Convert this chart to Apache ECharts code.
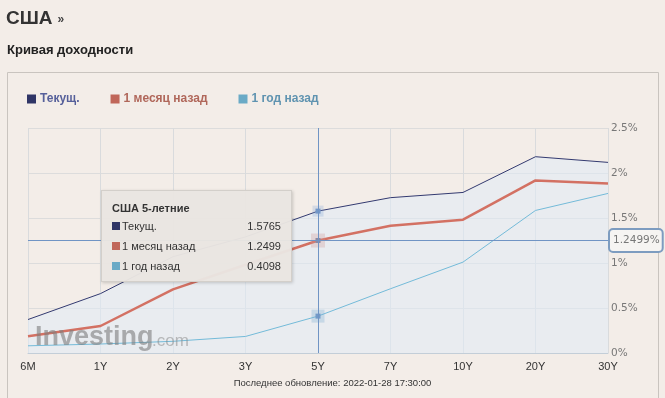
<!DOCTYPE html>
<html lang="ru">
<head>
    <meta charset="UTF-8">
    <title>Кривая доходности США</title>
    <script src="https://cdn.jsdelivr.net/npm/echarts@6/dist/echarts.min.js"></script>
    <style type="text/css">
        body{
            margin: 0px;
            padding: 0px;
            background: #f3ede8;
        }
        #chart{
            width: 665px;
            height: 398px;
        }
    </style>
</head>
<body>
<div id="chart"></div>
<script type="text/javascript">
    // сроки и подписи
    var categories = ['6M', '1Y', '2Y', '3Y', '5Y', '7Y', '10Y', '20Y', '30Y'];
    var termNames = ['6-месячные', '1-летние', '2-летние', '3-летние', '5-летние', '7-летние', '10-летние', '20-летние', '30-летние'];
    var seriesNames = ['Текущ.', '1 месяц назад', '1 год назад'];
    // доходность, %
    var current = [0.372, 0.66, 1.07, 1.29, 1.5765, 1.726, 1.784, 2.181, 2.118];
    var monthAgo = [0.185, 0.30, 0.707, 0.98, 1.2499, 1.414, 1.481, 1.918, 1.884];
    var yearAgo = [0.08, 0.10, 0.13, 0.184, 0.4098, 0.714, 1.01, 1.584, 1.773];
    var yTicks = [0, 0.5, 1, 1.5, 2, 2.5];
    var updated = 'Последнее обновление: 2022-01-28 17:30:00';

    var colors = ['#2f3566', '#c0675a', '#6aaac6'];
    var legendColors = ['#56609a', '#b0675a', '#5f93b0'];
    var hoverIndex = 4;

    var myChart = echarts.init(document.getElementById('chart'));

    var option = {
        animation: false,
        backgroundColor: '#f3ede8',
        title: [{
            text: '{a|США} {b|»}',
            left: 6,
            top: 9,
            padding: 0,
            textStyle: {
                rich: {
                    a: {fontSize: 19, fontWeight: 'bold', color: '#333', fontFamily: 'Arial, "Liberation Sans"'},
                    b: {fontSize: 12, color: '#444', fontFamily: 'Arial, "Liberation Sans"', padding: [3, 0, 0, 0]}
                }
            }
        }, {
            text: 'Кривая доходности',
            left: 7,
            top: 44,
            padding: 0,
            textStyle: {fontSize: 13, fontWeight: 'bold', color: '#222', fontFamily: 'Arial, "Liberation Sans"'}
        }],
        legend: {
            left: 22,
            top: 88,
            icon: 'rect',
            itemWidth: 9,
            itemHeight: 9,
            itemGap: 31,
            data: seriesNames.map(function (n, i) {
                return {name: n, textStyle: {color: legendColors[i]}};
            }),
            textStyle: {fontSize: 12, fontWeight: 'bold', fontFamily: 'Arial, "Liberation Sans"', padding: [0, 0, 0, -1]}
        },
        grid: {left: 28, right: 57, top: 128, bottom: 45},
        tooltip: {
            trigger: 'axis',
            triggerOn: 'none',
            alwaysShowContent: true,
            transitionDuration: 0,
            position: [101, 190],
            backgroundColor: 'rgba(233,229,225,0.97)',
            borderColor: '#d3cfca',
            borderWidth: 1,
            padding: [9, 10, 5, 10],
            textStyle: {fontSize: 11, color: '#333', fontFamily: 'Arial, "Liberation Sans"'},
            extraCssText: 'box-shadow: 1px 1px 3px rgba(0,0,0,0.18); border-radius: 0; width: 169px;',
            axisPointer: {
                type: 'cross',
                lineStyle: {color: '#7094c4', width: 1, type: 'solid'},
                crossStyle: {color: '#7094c4', width: 1, type: 'solid'}
            },
            formatter: function (params) {
                var idx = params[0].dataIndex;
                var html = '<div style="font-weight:bold;line-height:16px">США ' + termNames[idx] + '</div>';
                params.forEach(function (p) {
                    html += '<div style="display:flex;justify-content:space-between;line-height:20px">' +
                        '<span><span style="display:inline-block;width:8px;height:8px;margin-right:2px;background:' +
                        colors[p.seriesIndex] + '"></span>' + p.seriesName + '</span>' +
                        '<span>' + p.value.toFixed(4) + '</span></div>';
                });
                return html;
            }
        },
        xAxis: {
            type: 'category',
            data: categories,
            boundaryGap: false,
            axisLine: {lineStyle: {color: '#c3ced8'}},
            axisTick: {show: false},
            axisLabel: {color: '#333', fontSize: 11, margin: 8, fontFamily: 'Arial, "Liberation Sans"'},
            splitLine: {show: true, lineStyle: {color: '#d9dbdd'}},
            axisPointer: {label: {show: false}}
        },
        yAxis: {
            type: 'value',
            position: 'right',
            min: yTicks[0],
            max: yTicks[yTicks.length - 1],
            interval: 0.5,
            axisLine: {show: false},
            axisTick: {show: false},
            axisLabel: {
                color: '#777',
                fontSize: 10.5,
                margin: 3,
                fontFamily: '"DejaVu Sans"',
                formatter: function (v) { return v + '%'; }
            },
            splitLine: {lineStyle: {color: '#dcdcdc'}},
            axisPointer: {
                label: {
                    show: true,
                    backgroundColor: '#f6f4f2',
                    borderColor: '#7d9cc0',
                    borderWidth: 2,
                    color: '#777',
                    fontSize: 10.5,
                    fontFamily: '"DejaVu Sans"',
                    padding: [5, 2, 5, 3],
                    margin: 2,
                    formatter: function (p) { return p.value.toFixed(4) + '%'; }
                }
            }
        },
        graphic: [{
            type: 'rect',
            silent: true,
            shape: {x: 7.5, y: 72.5, width: 651, height: 340},
            style: {fill: 'none', stroke: '#c9c4bf', lineWidth: 1}
        }, {
            type: 'text',
            silent: true,
            left: 35,
            top: 324,
            z: 100,
            style: {text: 'Investing', font: 'bold 27px Arial, "Liberation Sans"', fill: 'rgba(125,125,125,0.6)'}
        }, {
            type: 'text',
            silent: true,
            left: 152,
            top: 333,
            z: 100,
            style: {text: '.com', font: '17px Arial, "Liberation Sans"', fill: 'rgba(140,140,140,0.55)'}
        }, {
            type: 'text',
            silent: true,
            left: 'center',
            top: 378,
            style: {text: updated, font: '9.5px Arial, "Liberation Sans"', fill: '#333'}
        }],
        series: [{
            name: seriesNames[0],
            type: 'line',
            data: current,
            symbol: 'rect',
            symbolSize: 5,
            showSymbol: false,
            lineStyle: {color: colors[0], width: 1},
            itemStyle: {color: colors[0]},
            areaStyle: {color: 'rgba(205,215,225,0.75)'},
            emphasis: {scale: false, itemStyle: {color: '#7094c4', borderColor: 'rgba(120,160,210,0.25)', borderWidth: 6}}
        }, {
            name: seriesNames[1],
            type: 'line',
            data: monthAgo,
            symbol: 'rect',
            symbolSize: 5,
            showSymbol: false,
            lineStyle: {color: colors[1], width: 2.5},
            itemStyle: {color: colors[1]},
            emphasis: {scale: false, itemStyle: {color: '#6f86a8', borderColor: 'rgba(210,150,150,0.3)', borderWidth: 9}}
        }, {
            name: seriesNames[2],
            type: 'line',
            data: yearAgo,
            symbol: 'rect',
            symbolSize: 5,
            showSymbol: false,
            lineStyle: {color: colors[2], width: 1},
            itemStyle: {color: colors[2]},
            emphasis: {scale: false, itemStyle: {color: '#7094c4', borderColor: 'rgba(120,170,210,0.3)', borderWidth: 8}}
        }]
    };

    myChart.setOption(option);

    // показать подсказку на 5Y, как на снимке
    var px = myChart.convertToPixel({xAxisIndex: 0, yAxisIndex: 0}, [hoverIndex, monthAgo[hoverIndex]]);
    myChart.dispatchAction({type: 'showTip', x: px[0], y: px[1]});
</script>
</body>
</html>
